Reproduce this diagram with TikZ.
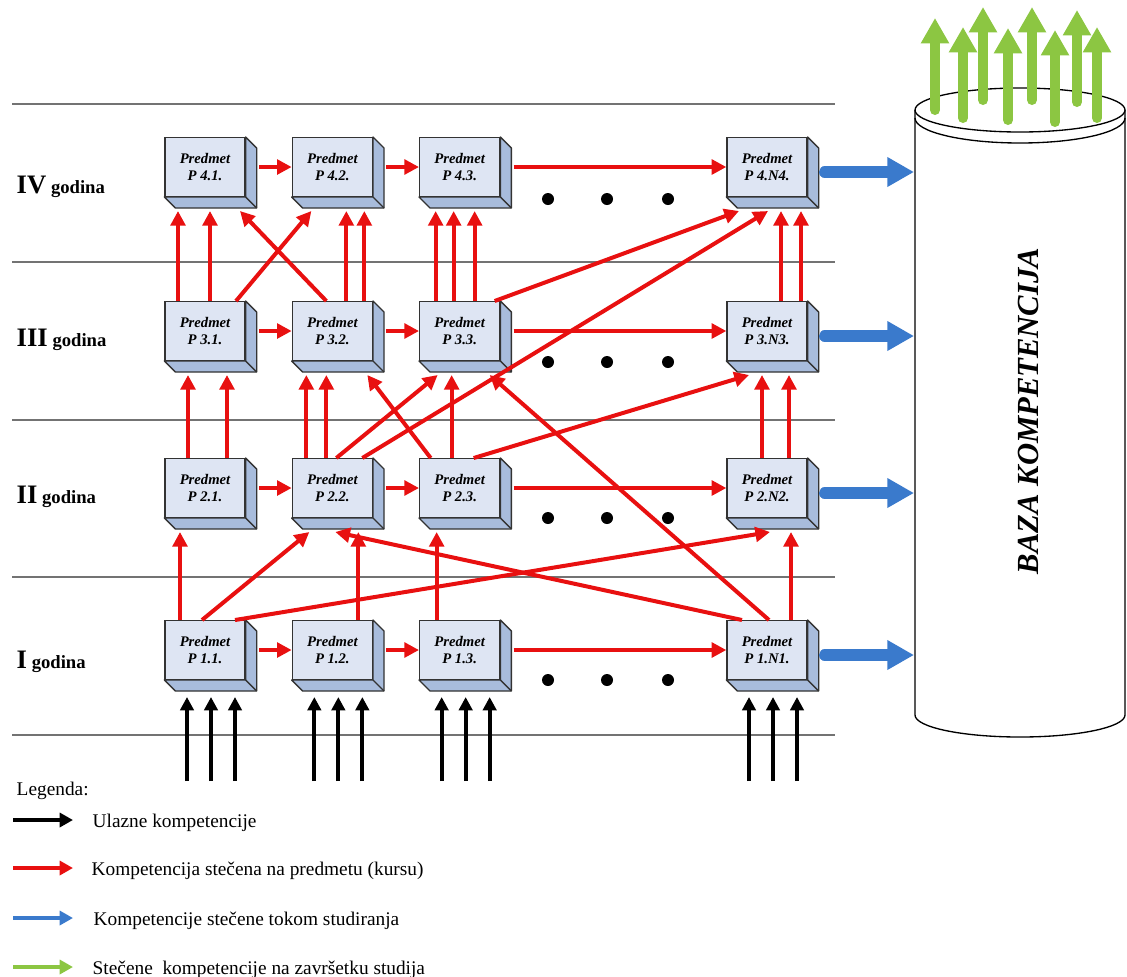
\documentclass[tikz,border=0pt]{standalone}
\usepackage{fontspec}
\setmainfont{Liberation Serif}
\usetikzlibrary{arrows.meta,positioning,calc}

\definecolor{kcrvena}{RGB}{232,16,16}
\definecolor{kplava}{RGB}{58,122,204}
\definecolor{kzelena}{RGB}{140,198,66}
\definecolor{kutija}{RGB}{222,229,243}
\definecolor{kstrana}{RGB}{168,188,220}

\begin{document}
\begin{tikzpicture}[x=0.75pt,y=-0.75pt,node distance=34.5pt,
    predmet/.style={draw=black!80,line width=1pt,fill=kutija,minimum width=60pt,minimum height=44pt,inner sep=1pt,align=center,font=\fontsize{11}{12.75}\selectfont\bfseries\itshape},
    strana/.style={draw=black!80,line width=1pt,fill=kstrana,line join=round},
    crv/.style={draw=kcrvena,line width=3pt,-{Triangle[length=11pt,width=11pt]}},
    crn/.style={draw=black,line width=3pt,-{Triangle[length=10pt,width=10pt]}},
    plv/.style={draw=kplava,line width=8.5pt,line cap=round,-{Triangle[length=20pt,width=21pt]}},
    zel/.style={draw=kzelena,line width=7.5pt,line cap=round,-{Triangle[length=19pt,width=20pt]}},
    legstr/.style={line width=3pt,-{Triangle[length=10pt,width=10.5pt]}},
    godina/.style={anchor=base west,font=\bfseries\fontsize{14}{14}\selectfont},
    leg/.style={anchor=base west,font=\fontsize{14.5}{16}\selectfont},
    traka/.style={draw=black!55,line width=1.1pt}]
    \useasboundingbox (0,0) rectangle (1127,976);
    % Year bands
    \foreach \y in {104,262,420,577,735}
      \draw[traka] (12,\y) -- (835,\y);
    \node[godina] (g4) at (12,193) {{\fontsize{20}{20}\selectfont IV} godina};
    \node[godina] (g3) at (12,346) {{\fontsize{20}{20}\selectfont III} godina};
    \node[godina] (g2) at (12,503) {{\fontsize{20}{20}\selectfont II} godina};
    \node[godina] (g1) at (12,668) {{\fontsize{20}{20}\selectfont I} godina};
    % Courses
    \node[predmet] (p41) at (205,167) {Predmet\\P 4.1.};
    \node[predmet,right=of p41] (p42) {Predmet\\P 4.2.};
    \node[predmet,right=of p42] (p43) {Predmet\\P 4.3.};
    \node[predmet,right=169.5pt of p43] (p4N) {Predmet\\P 4.N4.};
    \node[predmet] (p31) at (205,331) {Predmet\\P 3.1.};
    \node[predmet,right=of p31] (p32) {Predmet\\P 3.2.};
    \node[predmet,right=of p32] (p33) {Predmet\\P 3.3.};
    \node[predmet,right=169.5pt of p33] (p3N) {Predmet\\P 3.N3.};
    \node[predmet] (p21) at (205,488) {Predmet\\P 2.1.};
    \node[predmet,right=of p21] (p22) {Predmet\\P 2.2.};
    \node[predmet,right=of p22] (p23) {Predmet\\P 2.3.};
    \node[predmet,right=169.5pt of p23] (p2N) {Predmet\\P 2.N2.};
    \node[predmet] (p11) at (205,650) {Predmet\\P 1.1.};
    \node[predmet,right=of p11] (p12) {Predmet\\P 1.2.};
    \node[predmet,right=of p12] (p13) {Predmet\\P 1.3.};
    \node[predmet,right=169.5pt of p13] (p1N) {Predmet\\P 1.N1.};
    \foreach \b in {p41,p42,p43,p4N,p31,p32,p33,p3N,p21,p22,p23,p2N,p11,p12,p13,p1N} {
      \draw[strana] (\b.north east) -- ++(11,11) -- ($(\b.south east)+(11,11)$) -- ($(\b.south west)+(11,11)$) -- (\b.south west) -- (\b.south east) -- cycle;
      \draw[strana] (\b.south east) -- ++(11,11);
    }
    \foreach \y in {199,362,518,680}
      \foreach \x in {548,607,668}
        \fill (\x,\y) circle[radius=4.5pt];
    % Competences gained on a course
    \foreach \a/\b in {p41/p42,p42/p43,p43/p4N,p31/p32,p32/p33,p33/p3N,p21/p22,p22/p23,p23/p2N,p11/p12,p12/p13,p13/p1N}
      \draw[crv] ([xshift=10pt]\a.east) -- (\b.west);
    \foreach \a/\da/\b/\db in {p31/-27/p41/-27,p31/5/p41/5,p31/31/p42/-21,p32/-6/p41/35,p32/14/p42/14,p32/32/p42/32,
        p33/-24/p43/-24,p33/-6/p43/-6,p33/15/p43/15,p33/35/p4N/-28,p22/30/p4N/1,p3N/14/p4N/14,p3N/34/p4N/34,
        p21/-17/p31/-17,p21/22/p31/22,p22/-26/p32/-26,p22/-6/p32/-6,p22/4/p33/-22,p23/-29/p32/35,p23/-8/p33/-8,
        p23/14/p3N/-18,p2N/-5/p3N/-5,p2N/22/p3N/22,p1N/2/p33/30,
        p11/-25/p21/-25,p11/-3/p22/-23,p11/30/p2N/3,p12/26/p22/26,p1N/-25/p22/3,p13/-23/p23/-23,p1N/24/p2N/24}
      \draw[crv] ($(\a.north)+(\da,0)$) -- ($(\b.south)+(\db,14)$);
    % Entry competences
    \foreach \b in {p11,p12,p13,p1N}
      \foreach \d in {-18,6,30}
        \draw[crn] ($(\b.south)+(\d,101)$) -- ($(\b.south)+(\d,17)$);
    % Competence base
    \draw[fill=white,line width=1pt] (915,110) -- (915,715) arc[start angle=180,end angle=0,x radius=105,y radius=22] -- (1125,110);
    \draw[fill=white,line width=1pt] (1020,110) ellipse[x radius=105,y radius=22];
    \draw[line width=1pt] (915,118) arc[start angle=180,end angle=0,x radius=105,y radius=25];
    \coordinate (baza) at (915,410);
    \node[rotate=90,font=\bfseries\itshape\fontsize{23}{23}\selectfont] (bazatekst) at (1028,411) {BAZA KOMPETENCIJA};
    \foreach \b in {p1N,p2N,p3N,p4N}
      \draw[plv] ($(\b.east)+(17,5)$) -- ($(baza |- \b.east)+(-1,5)$);
    \foreach \x/\a/\b in {935/110/18,963/118/27,983/100/7,1008/120/28,1032/100/7,1055/122/30,1077/102/10,1097/118/27}
      \draw[zel] (\x,\a) -- (\x,\b);
    % Legend
    \node[leg] (legenda) at (12,795) {Legenda:};
    \node[leg] (l1) at (88,827) {Ulazne kompetencije};
    \node[leg] (l2) at (87,875) {Kompetencija stečena na predmetu (kursu)};
    \node[leg] (l3) at (89,925) {Kompetencije stečene tokom studiranja};
    \node[leg] (l4) at (88,974) {Stečene\ \ kompetencije na završetku studija};
    \draw[legstr,draw=black] ($(l1.base west)+(-75,-7)$) -- ($(l1.base west)+(-15,-7)$);
    \draw[legstr,draw=kcrvena] ($(l2.base west)+(-74,-7)$) -- ($(l2.base west)+(-14,-7)$);
    \draw[legstr,draw=kplava] ($(l3.base west)+(-76,-7)$) -- ($(l3.base west)+(-16,-7)$);
    \draw[legstr,draw=kzelena] ($(l4.base west)+(-75,-7)$) -- ($(l4.base west)+(-15,-7)$);
\end{tikzpicture}
\end{document}
